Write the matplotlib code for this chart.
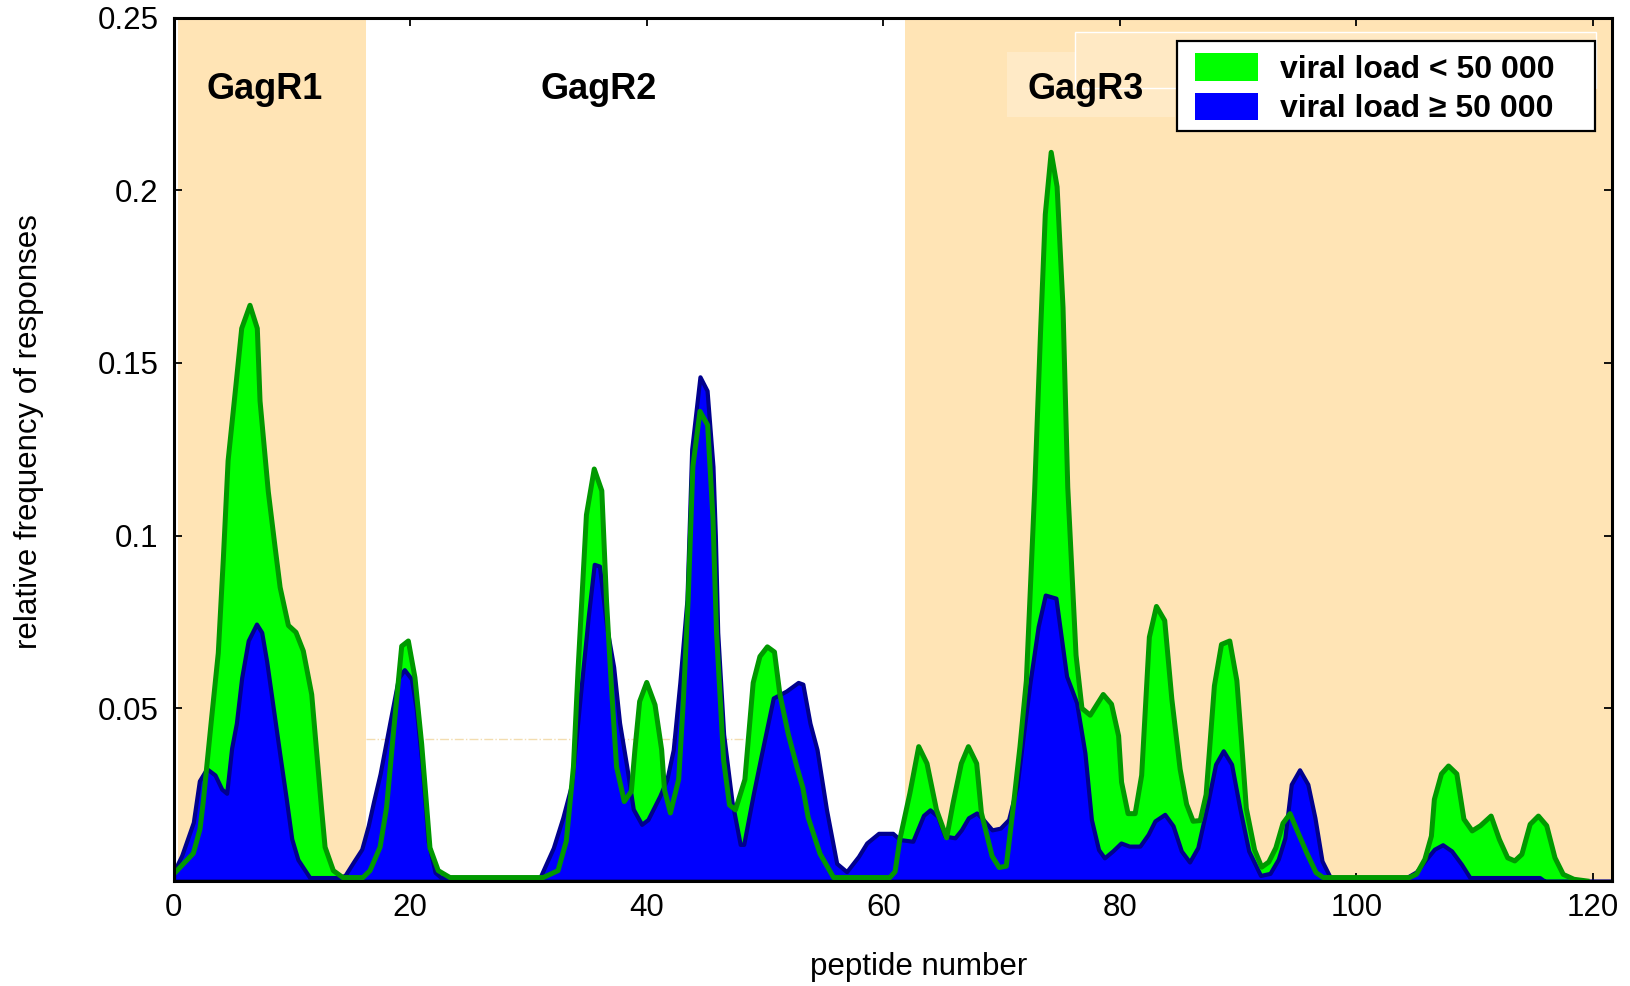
import matplotlib
matplotlib.use('Agg')
import matplotlib.pyplot as plt
from matplotlib.patches import Patch, Rectangle

plt.rcParams['font.family'] = ['Liberation Sans', 'DejaVu Sans']

# viral load < 50 000 (green)
green_x = [0.0, 1.66, 2.22, 2.5, 3.2, 3.77, 4.2, 4.6, 5.27, 5.75, 6.45, 7.07, 7.3, 8.0, 8.56, 9.0,
           9.7, 10.34, 10.96, 11.67, 12.1, 12.5, 12.8, 13.5, 14.3, 16.0, 16.6, 17.45, 18.0, 18.57,
           19.28, 19.84, 20.4, 20.97, 21.67, 22.37, 23.36, 31.25, 32.5, 33.2, 33.8, 34.2, 34.9,
           35.56, 36.2, 36.6, 37.0, 37.45, 38.1, 38.7, 39.0, 39.4, 40.0, 40.7, 41.26, 41.5, 42.0,
           42.7, 43.1, 43.5, 43.9, 44.5, 45.15, 45.6, 45.9, 46.5, 47.0, 47.5, 48.3, 49.0, 49.57,
           50.2, 50.8, 51.26, 51.97, 52.7, 53.2, 53.65, 54.65, 55.8, 60.56, 61.0, 61.4, 62.25,
           63.0, 63.7, 64.5, 65.36, 65.9, 66.6, 67.2, 67.9, 68.3, 69.2, 69.8, 70.4, 71.0, 71.56,
           72.1, 72.8, 73.3, 73.7, 74.2, 74.7, 75.2, 75.6, 76.3, 76.8, 77.5, 78.6, 79.3, 79.9,
           80.15, 80.7, 81.3, 81.85, 82.5, 83.1, 83.8, 84.4, 85.1, 85.65, 86.2, 86.8, 87.3, 88.0,
           88.6, 89.3, 89.9, 90.3, 90.7, 91.4, 92.0, 92.6, 93.2, 93.8, 94.4, 94.95, 95.8, 96.6,
           97.2, 104.5, 105.1, 105.8, 106.35, 106.6, 107.2, 107.8, 108.5, 109.1, 109.8, 110.5,
           111.4, 112.1, 112.8, 113.4, 114.0, 114.7, 115.4, 116.1, 116.8, 117.5, 118.4, 119.5]
green_y = [0.002, 0.008, 0.015, 0.023, 0.047, 0.066, 0.0935, 0.1217, 0.1438, 0.160, 0.1667, 0.160,
           0.139, 0.1127, 0.097, 0.085, 0.074, 0.072, 0.0666, 0.054, 0.037, 0.021, 0.0098, 0.003,
           0.001, 0.001, 0.003, 0.0098, 0.0213, 0.0425, 0.068, 0.0695, 0.0589, 0.0396, 0.0096,
           0.003, 0.001, 0.001, 0.003, 0.0116, 0.033, 0.0617, 0.106, 0.1193, 0.113, 0.081, 0.057,
           0.033, 0.023, 0.026, 0.038, 0.052, 0.0575, 0.051, 0.038, 0.0264, 0.0197, 0.0294, 0.0525,
           0.0815, 0.120, 0.136, 0.132, 0.105, 0.072, 0.035, 0.022, 0.0206, 0.0294, 0.0574, 0.065,
           0.0678, 0.0663, 0.054, 0.0425, 0.033, 0.027, 0.0184, 0.0079, 0.001, 0.001, 0.0027, 0.012,
           0.0254, 0.0389, 0.034, 0.0206, 0.0125, 0.0225, 0.034, 0.0389, 0.034, 0.0197, 0.0072,
           0.0039, 0.0043, 0.0217, 0.0389, 0.058, 0.113, 0.159, 0.193, 0.211, 0.201, 0.166, 0.114,
           0.0654, 0.050, 0.048, 0.054, 0.0512, 0.042, 0.0286, 0.0195, 0.0195, 0.0306, 0.0706,
           0.0795, 0.0754, 0.0527, 0.0324, 0.0222, 0.0173, 0.0175, 0.025, 0.0565, 0.0685, 0.0695,
           0.058, 0.040, 0.021, 0.009, 0.004, 0.0055, 0.0096, 0.0167, 0.0195, 0.015, 0.0082, 0.0024,
           0.001, 0.001, 0.002, 0.0063, 0.013, 0.0236, 0.031, 0.0333, 0.031, 0.0179, 0.0145, 0.016,
           0.0188, 0.012, 0.0067, 0.0058, 0.0077, 0.0164, 0.0188, 0.016, 0.0067, 0.0019, 0.0005, 0.0]

# viral load >= 50 000 (blue)
blue_x = [0.0, 0.68, 1.66, 2.17, 2.79, 3.49, 4.06, 4.48, 4.9, 5.3, 5.75, 6.3, 7.0, 7.44, 7.86, 8.4,
          9.0, 9.5, 9.98, 10.5, 11.5, 14.06, 14.5, 15.2, 15.9, 16.45, 16.9, 17.45, 18.3, 19.0, 19.5,
          20.1, 20.5, 20.97, 21.5, 22.1, 22.6, 30.97, 32.1, 32.9, 33.65, 34.35, 35.06, 35.56, 36.0,
          36.6, 37.2, 37.7, 38.3, 38.86, 39.57, 40.1, 41.1, 41.7, 42.24, 42.8, 43.4, 43.8, 44.5,
          45.1, 45.6, 45.8, 46.0, 46.5, 47.2, 47.9, 48.2, 49.0, 49.7, 50.7, 51.8, 52.8, 53.2, 53.8,
          54.4, 55.2, 56.06, 56.9, 57.9, 58.6, 59.6, 60.8, 61.4, 62.5, 63.4, 63.95, 64.6, 65.2,
          66.06, 66.6, 67.2, 67.9, 68.45, 69.2, 69.9, 70.6, 71.3, 71.8, 72.4, 73.1, 73.7, 74.6,
          75.5, 76.35, 77.05, 77.6, 78.2, 78.7, 79.4, 80.1, 80.8, 81.7, 82.4, 82.97, 83.8, 84.5,
          85.2, 85.9, 86.6, 87.4, 88.1, 88.75, 89.45, 90.15, 90.9, 91.9, 92.7, 93.4, 93.96, 94.5,
          95.2, 95.9, 96.5, 97.1, 97.8, 104.25, 105.1, 105.9, 106.6, 107.3, 108.06, 108.9, 109.6,
          115.5, 116.1, 121.6]
blue_y = [0.0026, 0.0074, 0.017, 0.029, 0.0325, 0.0307, 0.0266, 0.0254, 0.0385, 0.0457, 0.0589,
          0.0696, 0.0744, 0.072, 0.0636, 0.0505, 0.036, 0.0242, 0.0122, 0.0062, 0.001, 0.001,
          0.0017, 0.0055, 0.0092, 0.016, 0.023, 0.031, 0.0463, 0.0587, 0.0612, 0.0585, 0.050,
          0.0347, 0.0116, 0.0025, 0.001, 0.001, 0.0096, 0.0183, 0.028, 0.0525, 0.0767, 0.0917,
          0.0912, 0.0738, 0.062, 0.0458, 0.0333, 0.0208, 0.0164, 0.0178, 0.0246, 0.0294, 0.038,
          0.0575, 0.0815, 0.125, 0.146, 0.142, 0.12, 0.10, 0.072, 0.0425, 0.0232, 0.0106, 0.0106,
          0.025, 0.0367, 0.053, 0.055, 0.0575, 0.057, 0.0457, 0.038, 0.0206, 0.0051, 0.0027,
          0.0071, 0.011, 0.0138, 0.0138, 0.012, 0.0115, 0.019, 0.0206, 0.0187, 0.013, 0.0125,
          0.0148, 0.0183, 0.0197, 0.0178, 0.0148, 0.0153, 0.0178, 0.0274, 0.0409, 0.0573, 0.0737,
          0.0828, 0.0819, 0.0593, 0.0516, 0.0371, 0.0178, 0.0091, 0.0067, 0.0087, 0.011, 0.0101,
          0.0101, 0.0135, 0.0174, 0.0193, 0.016, 0.0087, 0.0055, 0.0097, 0.022, 0.0338, 0.0377,
          0.0338, 0.021, 0.0087, 0.0016, 0.0022, 0.0063, 0.0125, 0.028, 0.0322, 0.028, 0.0183,
          0.0058, 0.001, 0.001, 0.0027, 0.0063, 0.0092, 0.0105, 0.0087, 0.0048, 0.001, 0.001,
          -0.0005, -0.0005]

regions = ['GagR1', 'GagR2', 'GagR3']
region_label_x = [7.7, 35.9, 77.1]
shaded_spans = [(0.4, 16.3), (61.8, 121.6)]
legend_labels = ['viral load < 50 000', 'viral load \u2265 50 000']
x_ticks = [0, 20, 40, 60, 80, 100, 120]
y_ticks = [0.05, 0.1, 0.15, 0.2, 0.25]
y_tick_labels = ['0.05', '0.1', '0.15', '0.2', '0.25']

fig = plt.figure(figsize=(16.31, 9.86), dpi=100)
ax = fig.add_axes([0.1065, 0.1065, 0.8817, 0.8756])

# background regions
for a, b in shaded_spans:
    ax.axvspan(a, b, color='#FFE4B5', lw=0, zorder=0)
ax.add_patch(Rectangle((70.5, 0.2213), 14.2, 0.0187, facecolor='#FFEAC6', edgecolor='none', zorder=0.5))
ax.add_patch(Rectangle((76.2, 0.2297), 44.1, 0.0162, facecolor='#FFE9C4', edgecolor='white',
                       lw=1, zorder=0.6))
ax.plot([16.3, 48.6], [0.041, 0.041], color='#F3DDB0', lw=1, ls='-.', zorder=1)

# the two distributions
ax.fill_between(green_x, green_y, color='#00FF00', lw=0, zorder=2)
ax.fill_between(blue_x, blue_y, facecolor='#0000FF', edgecolor='#00008E', lw=3.0, zorder=3)
ax.plot(green_x, green_y, color='#009900', lw=3.6, zorder=4)

for name, xpos in zip(regions, region_label_x):
    ax.text(xpos, 0.2293, name, ha='center', va='center', fontsize=26, fontweight='bold', zorder=5)

ax.set_xlim(0, 121.6)
ax.set_ylim(0, 0.25)
ax.set_xticks(x_ticks)
ax.set_yticks(y_ticks)
ax.set_yticklabels(y_tick_labels)
ax.tick_params(direction='in', top=True, right=True, length=6, width=1.3, labelsize=22.5)
ax.tick_params(axis='y', pad=11)
ax.tick_params(axis='x', pad=9)
for s in ax.spines.values():
    s.set_linewidth(2.2)
    s.set_zorder(6)

ax.set_xlabel('peptide number', fontsize=22.5, va='center')
ax.xaxis.set_label_coords(0.518, -0.1002)
ax.set_ylabel('relative frequency of responses', fontsize=22.5, va='center')
ax.yaxis.set_label_coords(-0.1006, 0.52)

# legend: white box drawn separately, entries placed inside it
ax.add_patch(Rectangle((0.6974, 0.8688), 0.2908, 0.1036, transform=ax.transAxes,
                       facecolor='white', edgecolor='black', lw=1.6, zorder=7))
handles = [Patch(facecolor='#00FF00', edgecolor='none'), Patch(facecolor='#0000FF', edgecolor='none')]
leg = ax.legend(handles, legend_labels, loc='upper left', bbox_to_anchor=(0.7102, 0.959),
                borderaxespad=0, borderpad=0, prop={'weight': 'bold', 'size': 23},
                handlelength=1.96, handleheight=0.95, handletextpad=0.69,
                labelspacing=0.245, frameon=False)
leg.set_zorder(8)

fig.savefig('out.png', dpi=100)
